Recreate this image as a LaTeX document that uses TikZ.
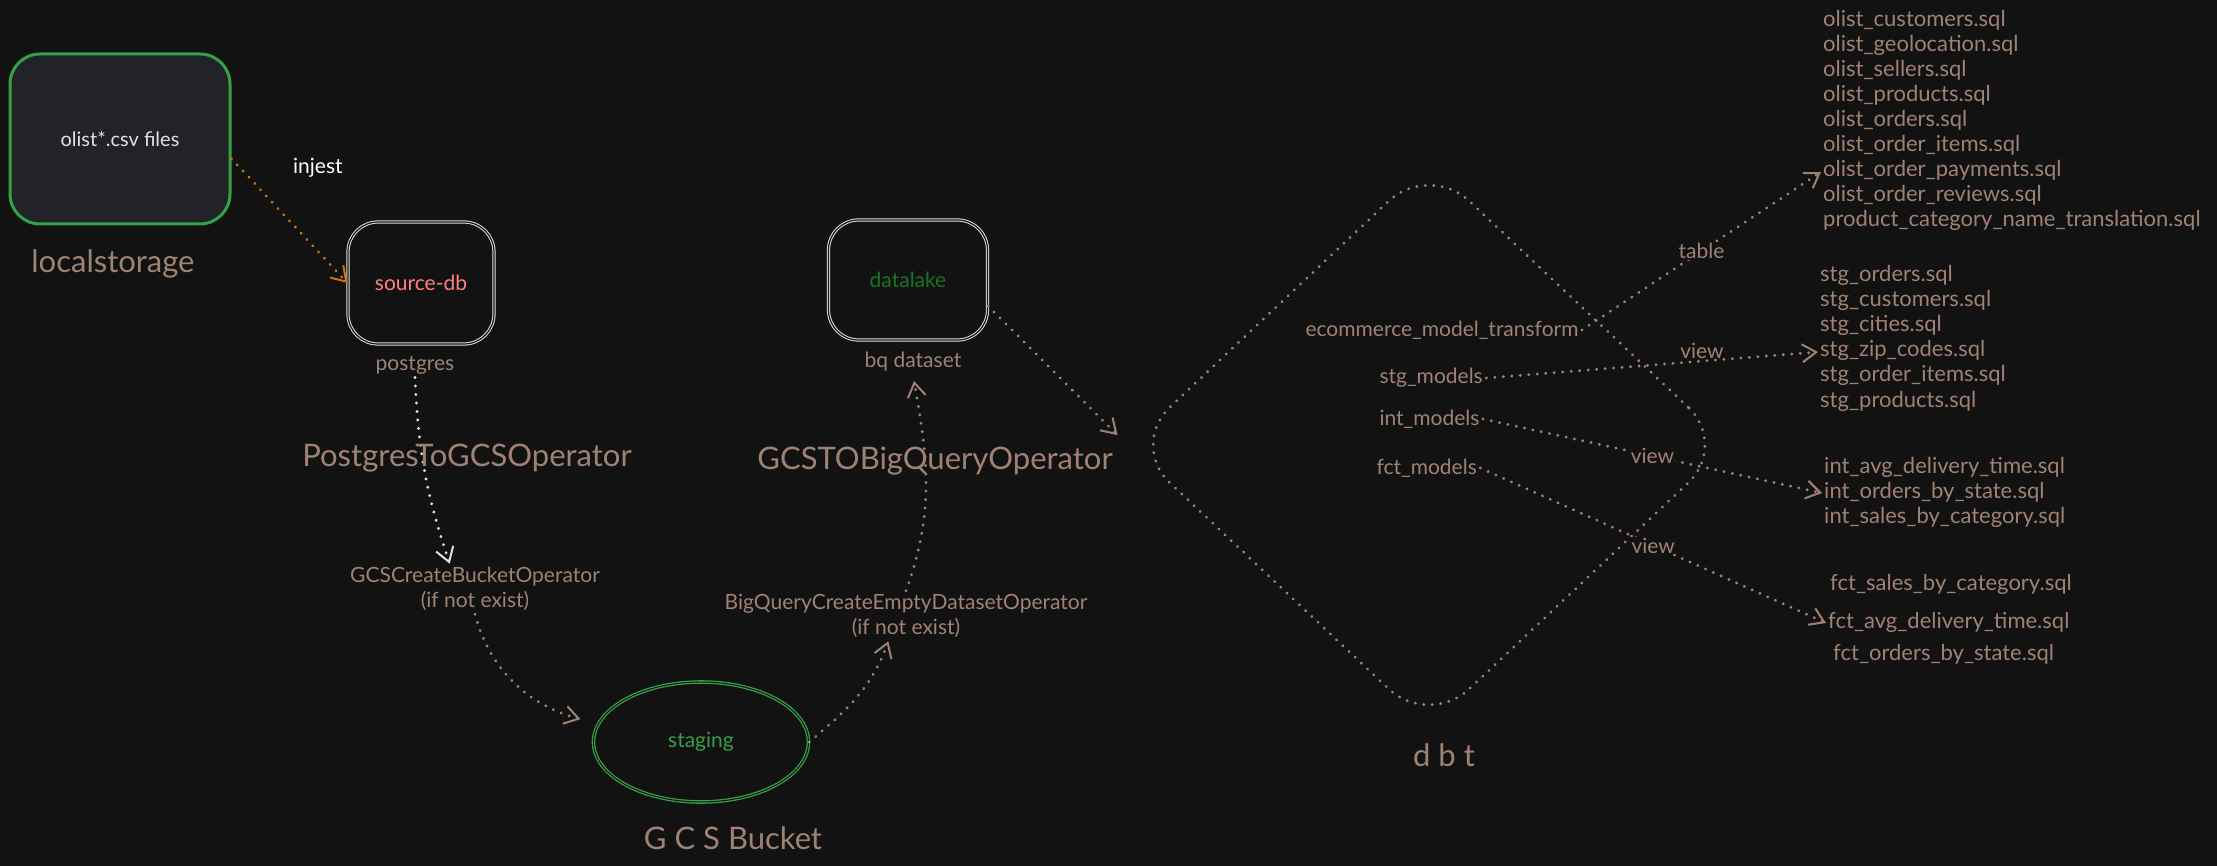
\documentclass[tikz,border=0pt]{standalone}
\usepackage{fontspec}
\setmainfont{Lato}
\usetikzlibrary{positioning,shapes.geometric,arrows.meta}

\definecolor{canvas}{RGB}{18,18,18}
\definecolor{boxfill}{RGB}{33,35,40}
\definecolor{sketchgreen}{RGB}{52,160,72}
\definecolor{lakegreen}{RGB}{24,118,34}
\definecolor{taupe}{RGB}{160,130,117}
\definecolor{dbred}{RGB}{255,128,128}
\definecolor{chalk}{RGB}{225,225,228}
\definecolor{rust}{RGB}{206,116,12}

\tikzset{
    node distance=2cm, % spacing for relative placement
    }

\begin{document}
\begin{tikzpicture}[x=1pt, y=1pt,
smalltext/.style={font=\fontsize{21}{25}\selectfont, text=taupe},
bigtext/.style={font=\fontsize{31}{36}\selectfont, text=taupe},
listtext/.style={smalltext, font=\fontsize{22}{25}\selectfont, anchor=west, inner sep=2pt, text height=15pt, text depth=5pt},
filebox/.style={rectangle, rounded corners=30pt, draw=sketchgreen, line width=3pt, fill=boxfill, minimum width=220pt, minimum height=170pt, text=chalk, font=\fontsize{20}{24}\selectfont},
storebox/.style={rectangle, rounded corners=30pt, draw=chalk, line width=1pt, double=canvas, double distance=1.2pt, minimum width=146pt, minimum height=122pt, font=\fontsize{21}{25}\selectfont},
bucket/.style={ellipse, draw=sketchgreen, line width=1.3pt, double=canvas, double distance=1pt, minimum width=215pt, minimum height=120pt, text=sketchgreen, font=\fontsize{21}{25}\selectfont},
dbtdiamond/.style={diamond, draw=taupe, line width=3.2pt, dash pattern=on 0.01pt off 8.5pt, line cap=round, minimum width=600pt, minimum height=565pt, inner sep=0pt, rounded corners=55pt},
flow/.style={taupe, line width=3.2pt, dash pattern=on 0.01pt off 8.5pt, line cap=round, -{Straight Barb[length=14pt, width=18pt, line width=2pt]}},
]
\fill[canvas] (0,0) rectangle (2217,-866);
\useasboundingbox (0,0) rectangle (2217,-866);

% local files and postgres
\node[filebox] (files) at (120,-139) {olist*.csv files};
\node[bigtext] (localstorage) at (113,-264) {localstorage};
\node[storebox, text=dbred] (source) at (421,-283) {source-db};
\node[smalltext] (pglabel) at (415,-365) {postgres};
\node[smalltext, align=center] (bucketop) at (475,-589) {GCSCreateBucketOperator\\(if not exist)};

% gcs bucket
\node[bucket] (staging) at (701,-742) {staging};
\node[bigtext] (gcslabel) at (733,-838) {G C S Bucket};

% bigquery
\node[storebox, text=lakegreen, minimum width=159pt, minimum height=120pt] (datalake) at (908,-280) {datalake};
\node[smalltext] (bqds) at (913,-362) {bq dataset};
\node[smalltext, align=center] (emptyop) at (906,-616) {BigQueryCreateEmptyDatasetOperator\\(if not exist)};

% dbt
\node[dbtdiamond] (dbt) at (1429,-445) {};
\node[bigtext] (dbtlabel) at (1444,-755) {d b t};
\node[smalltext] (transform) at (1442,-330) {ecommerce\_model\_transform};
\node[smalltext, anchor=west] (stgmodels) at (1376,-378) {stg\_models};
\node[smalltext, anchor=west] (intmodels) at (1376,-419) {int\_models};
\node[smalltext, anchor=west] (fctmodels) at (1373,-468) {fct\_models};

% model files
\foreach \sqlname [count=\i] in {olist\_customers.sql, olist\_geolocation.sql, olist\_sellers.sql, olist\_products.sql, olist\_orders.sql, olist\_order\_items.sql, olist\_order\_payments.sql, olist\_order\_reviews.sql, product\_category\_name\_translation.sql}
    \node[listtext] (olist-\i) at (1821,{-22-25*(\i-1)}) {\sqlname};
\foreach \sqlname [count=\i] in {stg\_orders.sql, stg\_customers.sql, stg\_cities.sql, stg\_zip\_codes.sql, stg\_order\_items.sql, stg\_products.sql}
    \node[listtext] (stg-\i) at (1818,{-277-25*(\i-1)}) {\sqlname};
\foreach \sqlname [count=\i] in {int\_avg\_delivery\_time.sql, int\_orders\_by\_state.sql, int\_sales\_by\_category.sql}
    \node[listtext] (int-\i) at (1822,{-468-25*(\i-1)}) {\sqlname};
\foreach \sqlname/\xpos/\ypos [count=\i] in {fct\_sales\_by\_category.sql/1828/-585, fct\_avg\_delivery\_time.sql/1826/-623, fct\_orders\_by\_state.sql/1831/-655}
    \node[listtext] (fct-\i) at (\xpos,\ypos) {\sqlname};

% connectors
\draw[flow, rust] (files.-10) -- node[pos=0.4, xshift=40pt, yshift=41pt, smalltext, text=white] {injest} (source.west);
\draw[flow, chalk] (pglabel.south) to[bend right=8] (bucketop.135);
\draw[flow, shorten >=18pt] (bucketop.south) to[out=-75, in=165] (staging.170);
\draw[flow] (staging.east) to[out=40, in=-110] (emptyop.-125);
\draw[flow, shorten >=6pt] (emptyop.north) to[out=70, in=-80] (bqds.south);
\draw[flow, shorten >=14pt] (datalake.-18) -- (dbt.west);
\draw[flow] (transform.east) -- node[smalltext, fill=canvas, inner sep=1pt] {table} (olist-7.west);
\draw[flow] (stgmodels.east) -- node[smalltext, pos=0.65, above=-2pt] {view} (stg-4.west);
\draw[flow] (intmodels.east) -- node[smalltext, fill=canvas, inner sep=1pt] {view} (int-2.west);
\draw[flow] (fctmodels.east) -- node[smalltext, fill=canvas, inner sep=1pt] {view} (fct-2.west);

% operator names over the lines
\node[bigtext] (pgop) at (467,-458) {PostgresToGCSOperator};
\node[bigtext] (gcsbqop) at (935,-461) {GCSTOBigQueryOperator};

\end{tikzpicture}
\end{document}
